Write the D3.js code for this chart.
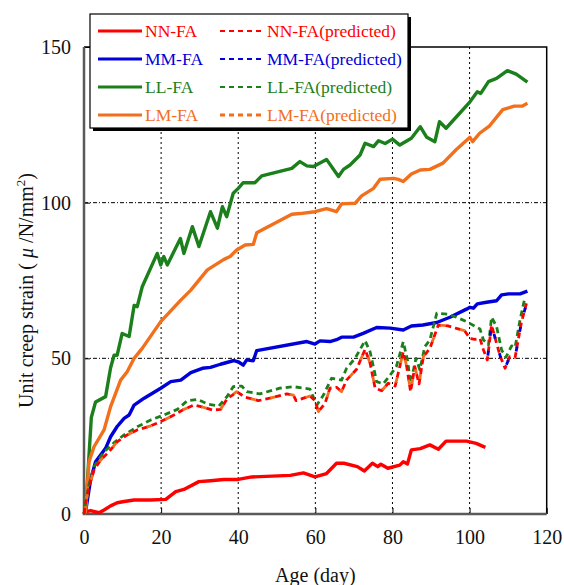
<!DOCTYPE html>
<html>
<head>
<meta charset="utf-8">
<script src="https://cdn.jsdelivr.net/npm/d3@7"></script>
<style>
  body { margin: 0; background: #fff; }
  svg { display: block; font-family: "Liberation Serif", "Times New Roman", serif; }
</style>
</head>
<body>
<svg width="564" height="585"></svg>
<script>
// measured curves, [age (day), unit creep strain]
const nnFA = [[0,0],[0.4,0.7],[1.7,1.1],[3.9,0.4],[5.2,1.3],[6.9,2.6],[8.6,3.6],[10.4,4.0],[13,4.5],[17.3,4.5],[21.2,4.7],[23.8,7.2],[25.9,7.9],[29.8,10.4],[32.8,10.7],[36.3,11.1],[40,11.1],[43.5,11.9],[53.5,12.4],[56.9,13.2],[59.9,11.9],[62.9,13],[65.5,16.3],[67.4,16.3],[70.9,15.2],[72.7,13.8],[74.8,16.3],[76.2,15.2],[77,16],[78.8,14.7],[81.9,15.7],[82.8,16.8],[83.9,16.1],[84.9,20.6],[87.2,21],[89.7,22.2],[91.9,20.8],[93.9,23.4],[99.2,23.4],[101.7,22.7],[104.1,21.4]];
const mmFA = [[0,0],[0.4,0.7],[1.7,10.9],[3,16.8],[5.6,21.1],[6.9,24.8],[8.6,28.1],[10.4,30.7],[11.7,31.8],[13,35],[15.6,37.2],[19.9,40.4],[22.5,42.5],[25.1,43],[27.7,45.4],[30.7,46.8],[32.8,47.1],[35.4,48.1],[38.9,49.3],[40,48.9],[41.3,47.8],[42.2,49.5],[43.9,49.2],[44.8,52.5],[57.8,55.4],[59.9,54.6],[61.2,55.6],[63.8,55.4],[65.5,56],[66.8,56.8],[69.9,56.8],[72.4,58],[75.9,59.9],[79.4,59.7],[82.8,59.1],[84.9,60.4],[87.9,60.7],[91.5,61.5],[94.9,63.2],[99.2,65.8],[100.1,66.4],[101,66.1],[102,67.5],[104.4,68],[107,68.5],[108.3,70.4],[110.1,70.7],[113.1,70.7],[115,71.6]];
const llFA = [[0,0],[0.4,0.7],[1.9,31],[3,36],[5.6,37.7],[6.9,47],[7.8,51],[8.6,51],[9.9,58],[11.7,57],[13,67],[13.8,66.6],[15.1,73],[19,83.7],[19.9,80],[20.7,82.7],[21.6,80],[25,88.5],[25.9,83.7],[28.1,92.3],[29.8,85.9],[32.8,97.1],[34.6,91.8],[35.9,98.7],[37,95.5],[38.7,103],[40,104.6],[41.3,106.4],[44.3,106.4],[46.1,108.6],[53.9,111],[56,113.2],[57.8,111.8],[59.5,111.6],[62.9,113.9],[66,108.4],[67.3,110.7],[69,112.1],[71.6,115.3],[72.9,119.1],[75.1,118],[76.4,119.9],[78.1,119],[80,120.4],[81.9,118.5],[84.9,120.7],[87.2,124.4],[88.9,121],[91,119.6],[92.2,126],[93.9,123.9],[100.1,132.4],[102,135.6],[102.9,135.1],[104.9,138.9],[107,139.9],[109.8,142.4],[112.1,141.3],[115,138.7]];
const lmFA = [[0,0],[0.4,0.7],[1.3,16.8],[2.6,21.6],[5.2,27],[6.9,34.5],[9.5,43],[11.2,45.7],[13,50],[15.1,53.2],[19.9,61.8],[25.1,68.7],[27.7,71.9],[32,78.4],[36.3,81.8],[37.9,82.7],[39.6,84.8],[41.8,86.4],[43.9,86.6],[44.8,90.3],[53.9,96.3],[56,96.5],[59.9,97.1],[62.9,98.1],[65.5,97.1],[66.8,99.6],[70.3,99.8],[72,102.2],[75.1,104.6],[76.8,107.5],[80.3,107.8],[81.5,107.5],[82.8,106.8],[84.9,109.2],[87.2,110.5],[89.7,110.7],[93.1,112.7],[96.5,117],[100.1,121],[100.8,119.6],[102.6,122.3],[105.2,124.7],[108.6,129.9],[111.6,131],[113.6,131],[115,131.9]];

// predicted curves
const nnPred = [[0,0],[0.4,3.4],[1.3,8.8],[2.6,14.1],[4.3,17.3],[6.5,20],[8.6,23.2],[11.2,25.4],[13.8,27],[17.3,28.3],[19.9,29.7],[23.3,31.8],[25.9,33.6],[28.5,35],[30.3,34.5],[33.3,33.4],[35.4,33.6],[37.2,37.2],[38.5,38.2],[39.6,39.3],[41.8,37.5],[45.2,36.4],[48.2,37.2],[52.6,38.6],[54.3,38.2],[55,36.4],[58.6,37.9],[59.9,36.4],[60.8,32.9],[62.5,35.5],[63.8,40.4],[65.5,40.7],[66.8,39.3],[68.1,43],[70.7,46.5],[72.9,52.9],[74.2,48.4],[75.5,40.4],[77.2,39.6],[78.9,42],[80.7,41.1],[82.8,52.1],[83.7,47.3],[84.7,39.3],[85.8,47.3],[86.9,41.8],[88,50.5],[89.7,53.2],[91.9,60.7],[94.4,60.4],[96.6,59.6],[98.7,58.9],[100.1,56.4],[101.4,56.1],[102.7,56.4],[103.6,52.7],[104.6,49.5],[105.7,60.7],[107,54.8],[108,50.5],[109.2,46.8],[110.4,50.5],[111.8,50.3],[113.4,61.3],[114.8,67.9]];
const lmPred = nnPred.filter(d => d[0] <= 101.4);
const mmPred = nnPred.filter(d => d[0] >= 103.6);
const llPred = [[0,0],[0.4,3.6],[1.3,9.5],[2.6,15.2],[5.2,20],[7.8,22.9],[10.4,25.4],[13.8,28],[17.3,30.2],[20.7,31.8],[24.2,33.6],[26.8,36.4],[29.4,36.8],[32.4,35.2],[35,34.7],[37.2,37.9],[38.7,40.9],[40.9,41.1],[42.2,39.3],[45.6,38.6],[50.8,40.4],[54.3,40.9],[58.6,40.1],[60.4,35],[62.1,38.2],[64.2,43.6],[66.8,43],[68.1,46.8],[70.3,50],[72.9,55.7],[74.2,52.1],[75.9,42.5],[77.6,41.8],[79.4,44.6],[81,47.3],[82.8,55.3],[83.9,49.4],[84.7,42],[86.1,50],[87.1,46.3],[88.4,53.8],[89.7,55.9],[91.5,64.5],[94.4,64.2],[96.6,63.2],[99.2,61.8],[102.7,59.4],[103.6,55.9],[104.9,54.3],[105.7,63.2],[107,60.2],[108.3,52.7],[109.4,50.3],[110.9,54],[111.8,53.5],[113.1,62.4],[114.4,69.8]];

const xTicks = [0, 20, 40, 60, 80, 100, 120];
const yTicks = [0, 50, 100, 150];

const red = '#ff0000', blue = '#0000d8', green = '#1b801b', orange = '#f26f1c';

const series = [
  { name: 'NN-FA', data: nnFA, color: red, dash: null },
  { name: 'MM-FA', data: mmFA, color: blue, dash: null },
  { name: 'LL-FA', data: llFA, color: green, dash: null },
  { name: 'LM-FA', data: lmFA, color: orange, dash: null },
  { name: 'LL-FA(predicted)', data: llPred, color: green, dash: '6,4', offset: 2 },
  { name: 'NN-FA(predicted)', data: nnPred, color: red, dash: '6,4', offset: 0 },
  { name: 'LM-FA(predicted)', data: lmPred, color: orange, dash: '5,15', offset: 5 },
  { name: 'MM-FA(predicted)', data: mmPred, color: blue, dash: '5,15', offset: 5 }
];

const legendRows = [
  ['NN-FA', 'NN-FA(predicted)', red],
  ['MM-FA', 'MM-FA(predicted)', blue],
  ['LL-FA', 'LL-FA(predicted)', green],
  ['LM-FA', 'LM-FA(predicted)', orange]
];

const mLeft = 84, mRight = 546.7, mTop = 47, mBottom = 514;

const x = d3.scaleLinear().domain([0, 120]).range([mLeft, mRight]);
const y = d3.scaleLinear().domain([0, 150]).range([mBottom, mTop]);

const svg = d3.select('svg');

// grid
svg.append('g')
  .selectAll('line')
  .data(xTicks.slice(1, -1))
  .join('line')
  .attr('x1', d => x(d)).attr('x2', d => x(d))
  .attr('y1', mTop).attr('y2', mBottom)
  .attr('stroke', '#000')
  .attr('stroke-width', 1)
  .attr('stroke-dasharray', '2,3');

svg.append('g')
  .selectAll('line')
  .data(yTicks.slice(1, -1))
  .join('line')
  .attr('x1', mLeft).attr('x2', mRight)
  .attr('y1', d => y(d)).attr('y2', d => y(d))
  .attr('stroke', '#000')
  .attr('stroke-width', 1)
  .attr('stroke-dasharray', '4,2,1,2');

// axes, ticks inward
const xAxis = svg.append('g')
  .attr('transform', `translate(0,${mBottom})`)
  .call(d3.axisBottom(x).tickValues(xTicks).tickSizeInner(-6).tickSizeOuter(0).tickPadding(16));
const yAxis = svg.append('g')
  .attr('transform', `translate(${mLeft},0)`)
  .call(d3.axisLeft(y).tickValues(yTicks).tickSizeInner(-6).tickSizeOuter(0).tickPadding(13));

[xAxis, yAxis].forEach(a => {
  a.select('.domain').remove();
  a.selectAll('.tick line').attr('stroke', '#000').attr('stroke-width', 1);
  a.selectAll('text')
    .attr('fill', '#111')
    .attr('font-size', 20)
    .attr('font-family', '"Liberation Serif", serif');
});

// frame
svg.append('path')
  .attr('d', `M${mLeft},${mTop}H${mRight}V${mBottom}`)
  .attr('fill', 'none')
  .attr('stroke', '#000')
  .attr('stroke-width', 1.5);
svg.append('path')
  .attr('d', `M${mLeft},${mTop}V${mBottom}H${mRight}`)
  .attr('fill', 'none')
  .attr('stroke', '#5a5a5a')
  .attr('stroke-width', 2.5);

// curves
const line = d3.line().x(d => x(d[0])).y(d => y(d[1]));

svg.append('g')
  .selectAll('path')
  .data(series)
  .join('path')
  .attr('d', d => line(d.data))
  .attr('fill', 'none')
  .attr('stroke', d => d.color)
  .attr('stroke-width', d => d.dash ? 2.8 : 3.4)
  .attr('stroke-linejoin', 'round')
  .attr('stroke-dasharray', d => d.dash)
  .attr('stroke-dashoffset', d => d.offset || 0);

// legend
const lg = svg.append('g');
lg.append('rect')
  .attr('x', 93).attr('y', 17).attr('width', 318).attr('height', 114)
  .attr('fill', '#000');
lg.append('rect')
  .attr('x', 90).attr('y', 14).attr('width', 318).attr('height', 114)
  .attr('fill', '#fff')
  .attr('stroke', '#000')
  .attr('stroke-width', 1.2);

const rowY = d3.scalePoint().domain(legendRows.map(r => r[0])).range([31, 115]);

const row = lg.selectAll('g.row')
  .data(legendRows)
  .join('g')
  .attr('class', 'row')
  .attr('transform', d => `translate(0,${rowY(d[0])})`);

row.append('line')
  .attr('x1', 98).attr('x2', 142)
  .attr('stroke', d => d[2]).attr('stroke-width', 3);
row.append('text')
  .attr('x', 145).attr('y', 6)
  .attr('font-size', 17.5)
  .attr('fill', d => d[2])
  .text(d => d[0]);
row.append('line')
  .attr('x1', 220).attr('x2', 263)
  .attr('stroke', d => d[2]).attr('stroke-width', (d, i) => i === 3 ? 3 : 2)
  .attr('stroke-dasharray', '5,4');
row.append('text')
  .attr('x', 267).attr('y', 6)
  .attr('font-size', 17.5)
  .attr('fill', d => d[2])
  .text(d => d[1]);

// axis titles
svg.append('text')
  .attr('x', (mLeft + mRight) / 2).attr('y', 582)
  .attr('text-anchor', 'middle')
  .attr('font-size', 20)
  .attr('fill', '#111')
  .text('Age (day)');

const yt = svg.append('text')
  .attr('transform', `translate(33,${(mTop + mBottom) / 2 + 10}) rotate(-90)`)
  .attr('text-anchor', 'middle')
  .attr('font-size', 20)
  .attr('fill', '#111');
yt.append('tspan').text('Unit creep strain ( ');
yt.append('tspan').attr('font-style', 'italic').text('μ');
yt.append('tspan').text(' /N/mm');
yt.append('tspan').attr('font-size', 13).attr('dy', -8).text('2');
yt.append('tspan').attr('dy', 8).text(')');
</script>
</body>
</html>
